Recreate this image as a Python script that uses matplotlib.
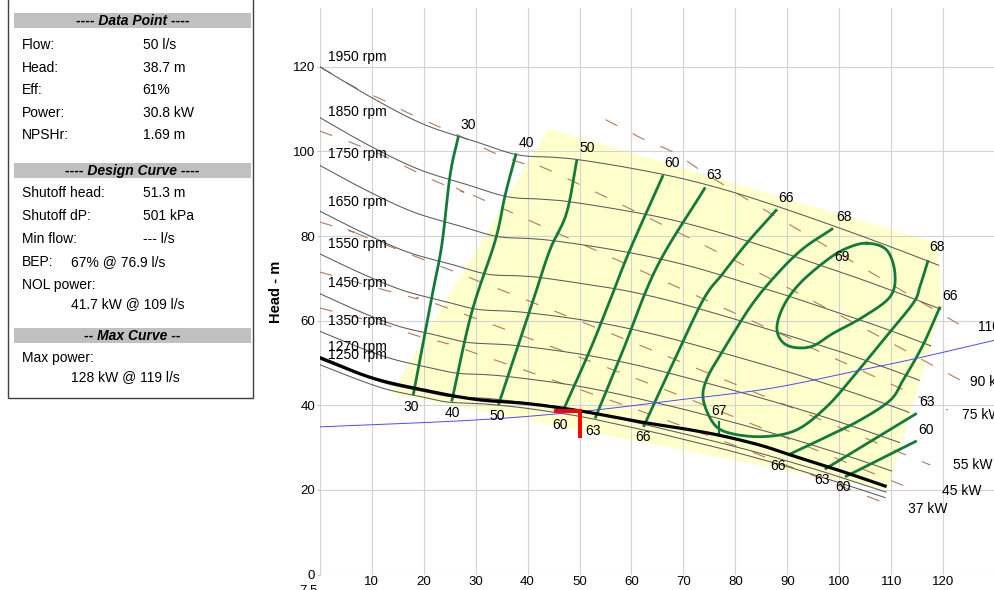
import numpy as np
import matplotlib
matplotlib.use("Agg")
import matplotlib.pyplot as plt
from matplotlib.patches import Rectangle, Polygon

plt.rcParams['font.family'] = ['Liberation Sans', 'DejaVu Sans']
plt.rcParams['lines.scale_dashes'] = False

# ---------------- data ----------------
# operating region (flow l/s, head m)
region_q = [44.0, 118.9, 119.7, 109.3, 13.8]
region_h = [105.4, 78.3, 63.3, 20.0, 42.8]

# speed curves
q_1950 = [0, 10, 20, 30, 38, 45, 50, 60, 70, 80, 90, 100, 110, 119.1]
h_1950 = [120.0, 112.7, 106.4, 102.3, 99.2, 98.6, 98.0, 96.0, 93.5, 90.2, 86.2, 81.9, 77.4, 73.1]
q_1850 = [0, 9.49, 18.97, 28.46, 36.05, 42.69, 47.44, 56.92, 66.41, 75.90, 85.38, 94.87, 104.36, 113.84, 119.5]
h_1850 = [108.0, 101.4, 95.8, 92.1, 89.3, 88.7, 88.2, 86.4, 84.2, 81.2, 77.6, 73.7, 69.7, 65.4, 62.7]
q_1750 = [0, 8.97, 17.95, 26.92, 34.10, 40.38, 44.87, 53.84, 62.82, 71.79, 80.77, 89.74, 98.71, 107.69, 116.66, 117.4]
h_1750 = [96.7, 90.8, 85.7, 82.4, 79.9, 79.4, 78.9, 77.3, 75.3, 72.7, 69.4, 66.0, 62.3, 58.6, 54.5, 54.1]
q_1650 = [0, 8.46, 16.92, 25.39, 32.16, 38.08, 42.31, 50.77, 59.23, 67.70, 76.16, 84.62, 93.08, 101.54, 110.01, 115.4]
h_1650 = [85.9, 80.7, 76.2, 73.3, 71.0, 70.6, 70.2, 68.7, 67.0, 64.6, 61.7, 58.6, 55.4, 52.1, 48.4, 45.9]
q_1550 = [0, 7.95, 15.90, 23.85, 30.21, 35.77, 39.75, 47.69, 55.64, 63.59, 71.54, 79.49, 87.44, 95.39, 103.34, 111.29, 113.4]
h_1550 = [75.8, 71.2, 67.2, 64.6, 62.7, 62.3, 61.9, 60.7, 59.1, 57.0, 54.5, 51.7, 48.9, 45.9, 42.7, 39.3, 38.3]
q_1450 = [0, 7.44, 14.87, 22.31, 28.26, 33.46, 37.18, 44.62, 52.05, 59.49, 66.92, 74.36, 81.80, 89.23, 96.67, 104.10, 111.6]
h_1450 = [66.4, 62.3, 58.8, 56.6, 54.9, 54.5, 54.2, 53.1, 51.7, 49.9, 47.7, 45.3, 42.8, 40.2, 37.4, 34.4, 31.2]
q_1350 = [0, 6.92, 13.85, 20.77, 26.31, 31.15, 34.62, 41.54, 48.46, 55.38, 62.31, 69.23, 76.15, 83.08, 90.0, 96.92, 103.85, 110.0]
h_1350 = [57.5, 54.0, 51.0, 49.0, 47.6, 47.3, 47.0, 46.0, 44.8, 43.2, 41.3, 39.3, 37.1, 34.8, 32.4, 29.8, 27.1, 24.5]
q_1270 = [0, 6.51, 13.03, 19.54, 24.75, 29.31, 32.56, 39.08, 45.59, 52.10, 58.62, 65.13, 71.64, 78.16, 84.67, 91.18, 97.69, 104.21, 109.0]
h_1270 = [50.9, 47.8, 45.1, 43.4, 42.1, 41.8, 41.6, 40.7, 39.7, 38.3, 36.6, 34.7, 32.8, 30.8, 28.7, 26.4, 24.0, 21.4, 19.5]
q_1250 = [0, 6.41, 12.82, 19.23, 24.36, 28.85, 32.05, 38.46, 44.87, 51.28, 57.69, 64.10, 70.51, 76.92, 83.33, 89.74, 96.15, 102.56, 108.8]
h_1250 = [49.6, 46.5, 43.8, 42.1, 40.8, 40.5, 40.3, 39.5, 38.4, 37.1, 35.4, 33.7, 31.8, 29.9, 27.8, 25.6, 23.2, 20.7, 18.2]
speeds = [1950, 1850, 1750, 1650, 1550, 1450, 1350, 1270, 1250]
speed_label_h = [122.3, 109.3, 99.4, 88.1, 78.1, 68.8, 60.0, 53.8, 52.0]

# design curve
q_design = [0, 10, 20, 30, 40, 50, 61.6, 69.4, 77.0, 84.7, 90, 100, 109.1]
h_design = [51.3, 46.5, 43.6, 41.4, 40.4, 38.7, 36.1, 34.6, 32.9, 30.6, 28.5, 24.6, 20.8]

# system curve
q_system = [0, 29.6, 50, 69.3, 86.7, 104, 114.9, 130]
h_system = [34.9, 36.5, 38.5, 41.3, 44.0, 48.3, 51.1, 55.4]

# iso-efficiency lines (%)
q_e30 = [26.7, 25.1, 23.5, 21.6, 18.0]
h_e30 = [103.6, 94.4, 77.9, 65.7, 42.4]
q_e40 = [37.8, 35.7, 33.8, 29.2, 25.4]
h_e40 = [99.5, 89.7, 79.0, 61.7, 40.9]
q_e50 = [49.5, 47.5, 44.3, 41.1, 34.4]
h_e50 = [98.0, 85.4, 76.7, 64.9, 40.1]
q_e60 = [66.1, 59.7, 55.9, 52.0, 46.9]
h_e60 = [94.4, 76.7, 64.9, 53.0, 38.9]
q_e63 = [74.2, 64.9, 58.4, 53.0]
h_e63 = [91.5, 72.7, 53.1, 36.9]
q_e66a = [88.0, 82.2, 77.5, 73.8, 68.0, 62.3]
h_e66a = [86.3, 78.3, 71.0, 64.9, 50.0, 34.9]
q_e68 = [98.8, 93.0, 88.0, 83.0, 77.7, 74.6, 73.8, 75.8, 79.0, 85.4, 91.8, 97.6, 102.7, 108.5, 114.2, 115.5, 117.1]
h_e68 = [81.8, 77.0, 71.0, 63.5, 53.1, 46.5, 41.5, 35.7, 33.4, 32.6, 34.2, 39.7, 46.8, 55.5, 64.1, 68.0, 74.3]
q_e66b = [90.2, 97.6, 104.0, 109.8, 112.3, 116.0, 119.4]
h_e66b = [28.3, 32.6, 36.5, 41.2, 46.0, 54.0, 63.3]
q_e63b = [97.2, 114.9]
h_e63b = [24.9, 38.1]
q_e60b = [101.1, 114.9]
h_e60b = [23.1, 31.6]
q_e69 = [105.3, 109.1, 110.7, 109.8, 104.6, 98.8, 94.4, 89.9, 88.0, 89.2, 92.4, 97.6, 101.4]
h_e69 = [78.3, 76.7, 71.2, 65.7, 60.9, 57.0, 53.8, 54.2, 57.8, 63.3, 68.8, 74.3, 77.1]

# BEP of design curve
bep_q = 76.9
bep_eff = 67

# iso-power lines (kW)
q_p37 = [0, 12.6, 18.3, 24.1, 29.3, 70, 108.8]
h_p37 = [63.0, 59.0, 56.6, 54.7, 52.6, 35.0, 16.9]
q_p45 = [0, 12.6, 18.3, 24.1, 70, 113.0]
h_p45 = [71.5, 67.2, 65.3, 63.2, 42.0, 20.7]
q_p55 = [0, 6.5, 8.8, 60, 117.5]
h_p55 = [83.3, 80.9, 79.8, 55.0, 25.9]
q_p75 = [0, 6.2, 12.0, 17.0, 22.2, 27.6, 30.3, 75, 120.9]
h_p75 = [104.8, 102.0, 99.1, 96.1, 93.0, 90.4, 89.2, 64.5, 38.9]
q_p90 = [0, 7.0, 12.4, 17.5, 28.3, 33.8, 40.0, 45.5, 85, 123.2]
h_p90 = [120.0, 115.0, 112.0, 108.8, 102.9, 99.5, 96.8, 94.8, 71.0, 46.0]
q_p110 = [55.0, 62.6, 68.0, 73.2, 78.4, 83.4, 124.2]
h_p110 = [107.5, 102.7, 99.8, 95.6, 91.6, 87.8, 58.3]
power_kw = [37, 45, 55, 75, 90, 110]
power_label_pos = [(113.3, 15.5), (119.8, 19.8), (121.9, 25.9), (123.6, 37.6), (125.2, 45.5), (126.6, 58.4)]

# selected duty point
duty_q = 50
duty_h = 38.7

# secondary axis value just below the plot
npsh_tick = '7.5'

# ---------------- helpers ----------------
def smooth(xs, ys, n=14, closed=False):
    p = np.column_stack([xs, ys]).astype(float)
    if len(p) < 3:
        return p[:, 0], p[:, 1]
    if closed:
        p = np.vstack([p[-1], p, p[0], p[1]])
    else:
        p = np.vstack([2 * p[0] - p[1], p, 2 * p[-1] - p[-2]])
    out = []
    t = np.linspace(0, 1, n, endpoint=False)[:, None]
    for i in range(1, len(p) - 2):
        p0, p1, p2, p3 = p[i - 1], p[i], p[i + 1], p[i + 2]
        seg = 0.5 * ((2 * p1) + (-p0 + p2) * t + (2 * p0 - 5 * p1 + 4 * p2 - p3) * t ** 2
                     + (-p0 + 3 * p1 - 3 * p2 + p3) * t ** 3)
        out.append(seg)
    out.append(p[-2][None, :])
    a = np.vstack(out)
    return a[:, 0], a[:, 1]


W, H = 994, 590
fig = plt.figure(figsize=(W / 100, H / 100), dpi=100)
fig.patch.set_facecolor('white')

# ---------------- info panel ----------------
pan = fig.add_axes([0, 0, 1, 1])
pan.set_xlim(0, W)
pan.set_ylim(H, 0)
pan.axis('off')
pan.add_patch(Rectangle((7.5, -5), 245, 403.3, fill=False, edgecolor='#404040', lw=1.0))

FS = 10
def title_bar(y, txt):
    pan.add_patch(Rectangle((14.3, y - 7.5), 236.4, 15, facecolor='#c0c0c0', edgecolor='none'))
    pan.text(132.5, y, txt, ha='center', va='center', fontsize=FS, fontweight='bold',
             fontstyle='italic')

def row(y, label, value=None, vx=142.7):
    pan.text(21.7, y, label, ha='left', va='center', fontsize=FS)
    if value is not None:
        pan.text(vx, y, value, ha='left', va='center', fontsize=FS)

title_bar(20.8, '---- Data Point ----')
row(45, 'Flow:', '50 l/s')
row(67.7, 'Head:', '38.7 m')
row(90, 'Eff:', '61%')
row(112.7, 'Power:', '30.8 kW')
row(135, 'NPSHr:', '1.69 m')
title_bar(170.7, '---- Design Curve ----')
row(193.3, 'Shutoff head:', '51.3 m')
row(216, 'Shutoff dP:', '501 kPa')
row(239.3, 'Min flow:', '--- l/s')
row(261.7, 'BEP:', '67% @ 76.9 l/s', vx=70.7)
row(285, 'NOL power:')
row(304.3, '', '41.7 kW @ 109 l/s', vx=71)
title_bar(335.7, '-- Max Curve --')
row(358.3, 'Max power:')
row(376.7, '', '128 kW @ 119 l/s', vx=71)

pan.text(309, 584.5, npsh_tick, ha='center', va='top', fontsize=9.5)

# ---------------- chart ----------------
ax = fig.add_axes([319.7 / W, 15.4 / H, 675.5 / W, 566.3 / H])
ax.set_xlim(0, 130)
ax.set_ylim(0, 133.8)
ax.set_axisbelow(True)
for s in ax.spines.values():
    s.set_visible(False)
ax.set_xticks(np.arange(0, 131, 10))
ax.set_xticklabels([''] + [str(v) for v in range(10, 121, 10)] + [''])
ax.set_yticks(np.arange(0, 121, 20))
ax.grid(True, color='#d2d2d2', lw=0.8)
ax.tick_params(axis='y', labelsize=9.5, colors='#c8c8c8', labelcolor='black',
               length=2.3, width=0.8, pad=1)
ax.tick_params(axis='x', labelsize=9.5, labelcolor='black', length=0, pad=1.2)
ax.set_ylabel('Head - m', fontsize=10.5, fontweight='bold', labelpad=7)

ax.add_patch(Polygon(np.column_stack([region_q, region_h]), closed=True,
                     facecolor='#ffffcc', edgecolor='none', zorder=0.1))

# speed curves
speed_q = [q_1950, q_1850, q_1750, q_1650, q_1550, q_1450, q_1350, q_1270, q_1250]
speed_h = [h_1950, h_1850, h_1750, h_1650, h_1550, h_1450, h_1350, h_1270, h_1250]
for n, qs, hs, ly in zip(speeds, speed_q, speed_h, speed_label_h):
    x, y = smooth(qs, hs)
    ax.plot(x, y, color='#5a5a5a', lw=0.75, zorder=3)
    ax.text(1.6, ly, f'{n} rpm', fontsize=10, ha='left', va='center', zorder=7)

# iso-power lines
power_q = [q_p37, q_p45, q_p55, q_p75, q_p90, q_p110]
power_h = [h_p37, h_p45, h_p55, h_p75, h_p90, h_p110]
for kw, qs, hs, (lx, ly) in zip(power_kw, power_q, power_h, power_label_pos):
    x, y = smooth(qs, hs)
    ax.plot(x, y, color='#b27a5c', lw=0.8, dashes=(9.5, 12.5), zorder=2.5)
    ax.text(lx, ly, f'{kw} kW', fontsize=10, ha='left', va='center', zorder=7, clip_on=False)

# system curve
x, y = smooth(q_system, h_system)
ax.plot(x, y, color='#4b4bff', lw=0.7, zorder=4.5)

# design curve
x, y = smooth(q_design, h_design)
ax.plot(x, y, color='black', lw=2.3, zorder=5, solid_capstyle='butt')

# iso-efficiency lines
green = '#137a3a'
eff_lines = [(q_e30, h_e30), (q_e40, h_e40), (q_e50, h_e50), (q_e60, h_e60), (q_e63, h_e63),
             (q_e66a, h_e66a), (q_e68, h_e68), (q_e66b, h_e66b), (q_e63b, h_e63b), (q_e60b, h_e60b)]
for qs, hs in eff_lines:
    x, y = smooth(qs, hs)
    ax.plot(x, y, color=green, lw=2.0, zorder=4, solid_capstyle='butt')
x, y = smooth(q_e69, h_e69, closed=True)
ax.plot(x, y, color=green, lw=2.0, zorder=4)
ax.plot([bep_q, bep_q], [36.1, 32.9], color=green, lw=1.6, zorder=4)

eff_labels = [
    ('30', 28.5, 106.2), ('40', 39.7, 102.0), ('50', 51.4, 100.8), ('60', 67.8, 97.2),
    ('63', 75.9, 94.4), ('66', 89.8, 88.9), ('68', 100.9, 84.4), ('68', 118.8, 77.4),
    ('66', 121.3, 65.8), ('69', 100.5, 75.0), (str(bep_eff), 76.9, 38.7), ('63', 116.9, 40.8),
    ('60', 116.7, 34.2), ('66', 88.2, 25.6), ('63', 96.7, 22.3), ('60', 100.7, 20.7),
    ('30', 17.6, 39.6), ('40', 25.5, 38.2), ('50', 34.1, 37.5), ('60', 46.3, 35.3),
    ('63', 52.6, 33.9), ('66', 62.2, 32.5),
]
for t, lx, ly in eff_labels:
    ax.text(lx, ly, t, fontsize=10, ha='center', va='center', zorder=7)

# duty point marker
ax.plot([duty_q - 5, duty_q, duty_q], [duty_h, duty_h, duty_h - 6.5], color='red', lw=2.8,
        zorder=6, solid_joinstyle='miter', solid_capstyle='butt')

fig.savefig('out.png', dpi=100)
